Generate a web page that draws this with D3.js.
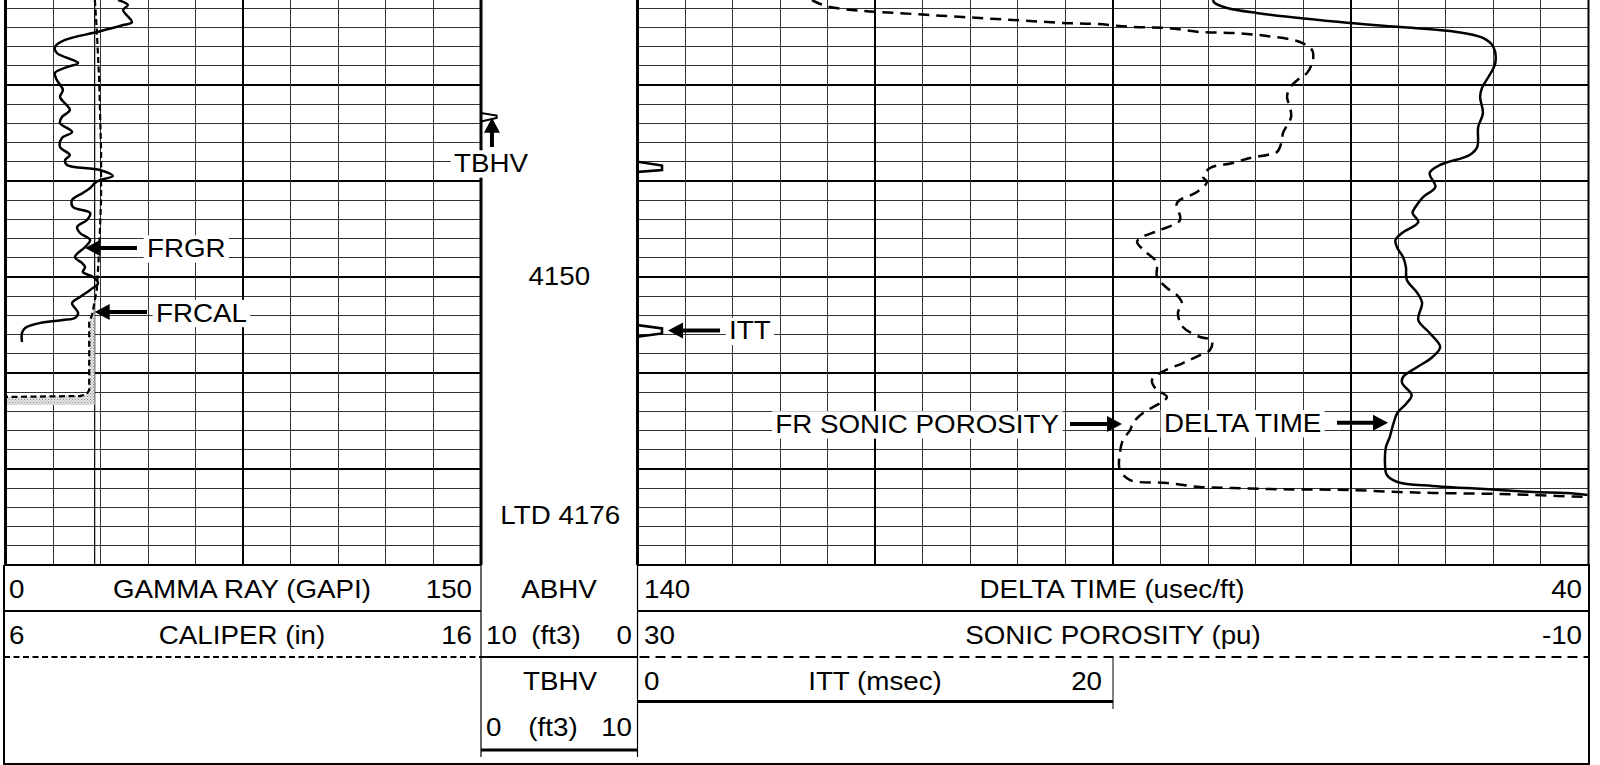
<!DOCTYPE html>
<html><head><meta charset="utf-8">
<script src="https://cdn.jsdelivr.net/npm/d3@7"></script>
<style>html,body{margin:0;padding:0;background:#fff;}svg{display:block;}</style>
</head><body>
<svg id="chart" width="1600" height="765"></svg>
<script>
// ---------------- data ----------------
const grScale = [0, 150];   const grName = "GAMMA RAY (GAPI)";
const calScale = [6, 16];   const calName = "CALIPER (in)";
const abhvScale = [10, 0];  const abhvName = "ABHV";
const tbhvScale = [0, 10];  const tbhvName = "TBHV";
const volUnit = "(ft3)";
const dtScale = [140, 40];  const dtName = "DELTA TIME (usec/ft)";
const phiScale = [30, -10]; const phiName = "SONIC POROSITY (pu)";
const ittScale = [0, 20];   const ittName = "ITT (msec)";
const depthLabels = [4150];
const loggerTD = 4176;
const bitSize = 7.875;

const grDepth = [4121.15,4121.67,4122.19,4123.44,4123.75,4124.48,4125.31,4126.04,4126.67,4127.71,4128.13,4128.75,4129.48,4130.52,4131.25,4132.6,4133.33,4133.96,4134.9,4135.52,4136.46,4137.29,4137.81,4138.33,4138.85,4139.48,4139.9,4140.21,4140.73,4141.25,4141.98,4142.71,4143.33,4144.06,4144.79,4145.42,4146.15,4146.88,4147.92,4148.54,4148.96,4149.48,4150.0,4150.63,4151.35,4152.08,4152.71,4153.75,4154.27,4154.48,4154.79,4155.31,4155.83,4156.77];
const grValue = [35.5,38.6,37.1,39.9,37.1,28.9,18.8,15.6,16.2,22.9,19.4,15.6,16.2,18.1,17.2,20.3,17.8,17.2,21.0,17.8,17.2,20.3,18.8,19.4,29.8,33.9,29.8,28.2,26.7,24.4,21.0,21.3,26.7,25.7,22.6,23.5,26.7,25.1,21.9,24.1,25.1,24.4,27.6,29.2,26.7,23.5,21.0,22.9,21.9,18.1,10.9,6.2,5.2,5.2];

const calDepth = [4121.15,4124.27,4129.48,4136.77,4141.98,4147.19,4151.35,4152.92,4153.96,4154.69,4161.77,4162.19,4162.4,4162.5,4163.33];
const calValue = [7.88,7.92,7.97,8.01,8.01,7.97,7.92,7.86,7.82,7.76,7.76,7.71,7.57,5.9,5.9];

const dtDepth = [4121.15,4121.46,4121.98,4122.5,4123.54,4123.96,4124.38,4125.1,4126.04,4127.71,4128.96,4130.31,4131.25,4132.92,4134.38,4136.46,4137.29,4138.33,4139.17,4140.63,4141.67,4142.71,4143.33,4144.27,4145.42,4146.15,4146.98,4147.92,4148.96,4150.31,4151.67,4152.71,4154.48,4155.83,4157.29,4158.33,4159.38,4160.42,4161.04,4162.29,4163.13,4164.17,4165.21,4166.67,4167.71,4169.38,4170.63,4171.35,4171.77,4171.98,4172.19,4172.4,4172.5,4172.71];
const dtValue = [79.5,79.3,78.0,74.9,65.1,59.8,54.6,51.1,50.0,49.8,50.4,51.2,51.4,51.1,51.6,51.7,52.5,55.6,56.7,56.1,57.4,58.2,58.5,57.9,59.6,60.3,60.1,59.5,59.2,59.1,58.0,57.5,57.9,56.7,55.6,56.4,58.0,59.5,59.6,58.6,59.1,60.1,60.5,60.9,61.3,61.4,61.2,60.1,56.4,52.8,49.3,45.8,42.3,40.1];

const phiDepth = [4121.15,4121.46,4121.88,4122.29,4122.5,4122.71,4122.92,4123.13,4123.33,4123.54,4123.65,4123.96,4124.06,4124.48,4124.58,4124.9,4125.52,4126.35,4127.4,4128.75,4129.27,4130.31,4131.25,4132.29,4133.33,4135.0,4135.73,4136.98,4137.29,4137.6,4138.13,4138.65,4139.58,4140.1,4141.15,4142.29,4144.06,4145.1,4145.94,4146.35,4147.5,4148.23,4148.96,4150.0,4151.15,4151.88,4152.71,4153.75,4155.21,4156.25,4156.56,4157.6,4158.13,4158.96,4160.0,4160.73,4161.56,4162.5,4163.02,4164.17,4165.21,4165.94,4166.98,4168.33,4170.1,4171.15,4171.46,4171.88,4171.98,4172.08,4172.13,4172.19,4172.4,4172.5,4172.55,4172.6,4172.71,4172.92];
const phiValue = [22.66,22.41,21.9,20.51,19.09,17.7,16.31,14.88,13.49,12.1,10.67,9.16,7.73,6.34,4.95,3.52,2.14,1.63,1.59,1.84,2.14,2.56,2.68,2.56,2.51,2.85,2.89,3.1,3.52,4.24,4.95,5.92,6.21,6.05,6.47,7.31,7.18,8.02,8.86,8.99,8.57,8.23,8.15,8.15,7.73,7.31,7.1,7.27,7.06,6.34,5.84,5.92,6.34,7.06,8.02,8.36,8.23,7.73,7.94,8.74,9.16,9.28,9.58,9.71,9.71,9.28,7.73,6.34,4.95,3.52,2.14,0.03,-2.07,-3.46,-4.89,-6.28,-7.67,-10.0];

const ittDepth = [4121.15,4137.99,4138.39,4138.85,4139.06,4155.0,4155.36,4155.88,4156.22,4163.0];
const ittValue = [0,0,1.03,1.03,0,0,1.03,1.03,0,0];

const tbhvDepth = [4132.92,4133.18,4133.44,4133.8];
const tbhvValue = [0,1.0,1.0,0];

// ---------------- layout ----------------
const svg = d3.select('#chart');
const FONT = "'Liberation Sans', Arial, Helvetica, sans-serif";
const FS = 25, SX = 1.11;
const T1 = {x0: 5.5, x1: 481};
const TD = {x0: 481, x1: 637.5};
const T2 = {x0: 637.5, x1: 1588.5};
const plotBottom = 565;

const y = d3.scaleLinear().domain([4121.146, 4180]).range([0, plotBottom]);
const xGR = d3.scaleLinear().domain(grScale).range([T1.x0, T1.x1]);
const xCAL = d3.scaleLinear().domain(calScale).range([T1.x0, T1.x1]);
const xDT = d3.scaleLinear().domain(dtScale).range([T2.x0, T2.x1]);
const xPHI = d3.scaleLinear().domain(phiScale).range([T2.x0, T2.x1]);
const xITT = d3.scaleLinear().domain(ittScale).range([T2.x0, (T2.x0 + T2.x1) / 2]);
const xTBHV = d3.scaleLinear().domain(tbhvScale).range([TD.x0, TD.x1]);

const defs = svg.append('defs');
const pat = defs.append('pattern').attr('id', 'stip').attr('width', 3).attr('height', 3).attr('patternUnits', 'userSpaceOnUse');
pat.append('rect').attr('width', 3).attr('height', 3).attr('fill', '#e4e4e4');
pat.append('rect').attr('width', 1).attr('height', 1).attr('fill', '#8a8a8a');
pat.append('rect').attr('x', 1.5).attr('y', 1.5).attr('width', 1).attr('height', 1).attr('fill', '#aaa');
defs.append('clipPath').attr('id', 'c1').append('rect').attr('x', T1.x0).attr('y', 0).attr('width', T1.x1 - T1.x0).attr('height', plotBottom);
defs.append('clipPath').attr('id', 'c2').append('rect').attr('x', T2.x0).attr('y', 0).attr('width', T2.x1 - T2.x0).attr('height', plotBottom);

function line(g, x1, y1, x2, y2, w, dash, col) {
  const l = g.append('line').attr('x1', x1).attr('y1', y1).attr('x2', x2).attr('y2', y2)
    .attr('stroke', col || '#000').attr('stroke-width', w);
  if (dash) l.attr('stroke-dasharray', dash);
  return l;
}

// ---------------- grid ----------------
const grid = svg.append('g').attr('shape-rendering', 'crispEdges');
const gridDepths = d3.range(4122, 4180, 2);
[T1, T2].forEach(t => {
  gridDepths.forEach(d => {
    const thick = d % 10 === 0;
    line(grid, t.x0, y(d), t.x1, y(d), thick ? 2 : 1, null, thick ? '#000' : '#333');
  });
});
d3.range(1, 10).forEach(i => {
  const x = T1.x0 + i * (T1.x1 - T1.x0) / 10;
  line(grid, x, 0, x, plotBottom, i === 5 ? 2 : 1, null, i === 5 ? '#000' : '#333');
});
d3.range(1, 20).forEach(i => {
  const x = T2.x0 + i * (T2.x1 - T2.x0) / 20;
  line(grid, x, 0, x, plotBottom, i % 5 === 0 ? 2 : 1, null, i % 5 === 0 ? '#000' : '#333');
});

// bit size reference
line(svg, xCAL(bitSize), 0, xCAL(bitSize), plotBottom, 1.2);

// ---------------- curves ----------------
const zip = (ds, vs) => ds.map((d, i) => ({d, v: vs[i]}));
const cal = zip(calDepth, calValue);
const g1 = svg.append('g').attr('clip-path', 'url(#c1)');
g1.append('path').datum(cal)
  .attr('d', d3.area().y(p => y(p.d)).x0(p => xCAL(Math.min(p.v, bitSize))).x1(xCAL(bitSize)))
  .attr('fill', 'url(#stip)');
g1.append('path').datum(zip(grDepth, grValue))
  .attr('d', d3.line().x(p => xGR(p.v)).y(p => y(p.d)).curve(d3.curveCatmullRom.alpha(0.5)))
  .attr('fill', 'none').attr('stroke', '#000').attr('stroke-width', 2.5).attr('stroke-linejoin', 'round');
g1.append('path').datum(cal)
  .attr('d', d3.line().x(p => xCAL(p.v)).y(p => y(p.d)))
  .attr('fill', 'none').attr('stroke', '#000').attr('stroke-width', 2.2).attr('stroke-dasharray', '6,3.5');

const g2 = svg.append('g').attr('clip-path', 'url(#c2)');
g2.append('path').datum(zip(phiDepth, phiValue))
  .attr('d', d3.line().x(p => xPHI(p.v)).y(p => y(p.d)).curve(d3.curveCatmullRom.alpha(0.5)))
  .attr('fill', 'none').attr('stroke', '#000').attr('stroke-width', 2.5).attr('stroke-dasharray', '11,7');
g2.append('path').datum(zip(dtDepth, dtValue))
  .attr('d', d3.line().x(p => xDT(p.v)).y(p => y(p.d)).curve(d3.curveCatmullRom.alpha(0.5)))
  .attr('fill', 'none').attr('stroke', '#000').attr('stroke-width', 2.5).attr('stroke-linejoin', 'round');
svg.append('path').datum(zip(ittDepth, ittValue))
  .attr('d', d3.line().x(p => xITT(p.v)).y(p => y(p.d)))
  .attr('fill', 'none').attr('stroke', '#000').attr('stroke-width', 2.6);
svg.append('path').datum(zip(tbhvDepth, tbhvValue))
  .attr('d', d3.line().x(p => xTBHV(p.v)).y(p => y(p.d)))
  .attr('fill', 'none').attr('stroke', '#000').attr('stroke-width', 2);

// track borders
const borders = svg.append('g');
line(borders, T1.x0, 0, T1.x0, plotBottom, 3);
line(borders, T1.x1, 0, T1.x1, plotBottom, 3);
line(borders, T2.x0, 0, T2.x0, plotBottom, 3);
line(borders, T2.x1, 0, T2.x1, plotBottom, 2);

// ---------------- text helpers ----------------
function text(str, x, yy, anchor, box) {
  const g = svg.append('g').attr('transform', `translate(${x},${yy}) scale(${SX},1)`);
  const r = box ? g.append('rect').attr('fill', '#fff') : null;
  const t = g.append('text').attr('font-family', FONT).attr('font-size', FS)
    .attr('text-anchor', anchor || 'start').attr('fill', '#000').text(str);
  if (r) {
    const b = t.node().getBBox();
    r.attr('x', b.x - 3).attr('y', b.y + 1).attr('width', b.width + 6).attr('height', b.height - 1);
  }
  return g;
}
function arrow(x1, y1, x2, y2) {
  const dx = x2 - x1, dy = y2 - y1, L = Math.hypot(dx, dy), ux = dx / L, uy = dy / L;
  const hl = 15, hw = 8;
  const bx = x2 - ux * hl, by = y2 - uy * hl;
  line(svg, x1, y1, bx + ux, by + uy, 4);
  svg.append('path').attr('d', `M${x2},${y2}L${bx - uy * hw},${by + ux * hw}L${bx + uy * hw},${by - ux * hw}Z`).attr('fill', '#000');
}

// depth labels
depthLabels.forEach(d => text(String(d), (TD.x0 + TD.x1) / 2, y(d) + 8, 'middle'));
text('LTD ' + loggerTD, (TD.x0 + TD.x1) / 2 + 1, y(loggerTD) - 2.5, 'middle');

// ---------------- curve annotations ----------------
{
  const tipY = y(4146.98);
  arrow(137, tipY, xGR(25.1), tipY);
  text('FRGR', 147, tipY + 9, 'start', true);
}
{
  const tipY = y(4153.65);
  arrow(147, tipY, xCAL(bitSize), tipY);
  text('FRCAL', 156, tipY + 9.5, 'start', true);
}
{
  const tx = xTBHV(0.7);
  text(tbhvName, tx - 1, 172, 'middle', true);
  arrow(tx, 147, tx, y(4133.4));
}
{
  const tipY = y(4155.57);
  arrow(720, tipY, 668, tipY);
  text('ITT', 729, tipY + 9, 'start', true);
}
{
  const tipY = y(4165.31);
  text('FR SONIC POROSITY', 1059, tipY + 9, 'end', true);
  arrow(1070, tipY, 1122, tipY);
}
{
  const tipY = y(4165.18);
  text('DELTA TIME', 1164, tipY + 9, 'start', true);
  arrow(1337, tipY, 1388, tipY);
}

// ---------------- header ----------------
const hd = svg.append('g');
line(hd, 4, plotBottom, T1.x1, plotBottom, 2);
line(hd, T2.x0, plotBottom, 1590, plotBottom, 2);
line(hd, 4, 611, T1.x1, 611, 2);
line(hd, T2.x0, 611, 1590, 611, 2);
line(hd, 4, 657, T1.x1, 657, 2, '6,3.5');
line(hd, T2.x0 + 2, 657, 1590, 657, 2, '10,6');
line(hd, TD.x0, 657, TD.x1, 657, 2);
line(hd, T2.x0, 701.5, xITT(ittScale[1]), 701.5, 3);
line(hd, xITT(ittScale[1]), 657, xITT(ittScale[1]), 709, 1);
line(hd, TD.x0, 750, TD.x1, 750, 3);
line(hd, TD.x0, plotBottom, TD.x0, 757, 1.2);
line(hd, TD.x1, plotBottom, TD.x1, 757, 1.2);
line(hd, 4, plotBottom, 4, 764, 2);
line(hd, 3, 764, 1590, 764, 2);
line(hd, 1589, plotBottom, 1589, 764, 2);

const r1 = 597.5, r2 = 643.5, r3 = 689.5, r4 = 735.5;
// row 1
text(String(grScale[0]), 9, r1, 'start');
text(grName, 242, r1, 'middle');
text(String(grScale[1]), 472, r1, 'end');
text(abhvName, 559, r1, 'middle');
text(String(dtScale[0]), 644, r1, 'start');
text(dtName, 1112, r1, 'middle');
text(String(dtScale[1]), 1582, r1, 'end');
// row 2
text(String(calScale[0]), 9, r2, 'start');
text(calName, 242, r2, 'middle');
text(String(calScale[1]), 472, r2, 'end');
text(String(abhvScale[0]), 486, r2, 'start');
text(volUnit, 556, r2, 'middle');
text(String(abhvScale[1]), 632, r2, 'end');
text(String(phiScale[0]), 644, r2, 'start');
text(phiName, 1113, r2, 'middle');
text(String(phiScale[1]), 1582, r2, 'end');
// row 3
text(tbhvName, 560, r3, 'middle');
text(String(ittScale[0]), 644, r3, 'start');
text(ittName, 875, r3, 'middle');
text(String(ittScale[1]), 1102, r3, 'end');
// row 4
text(String(tbhvScale[0]), 486, r4, 'start');
text(volUnit, 553, r4, 'middle');
text(String(tbhvScale[1]), 632, r4, 'end');
</script>
</body></html>
